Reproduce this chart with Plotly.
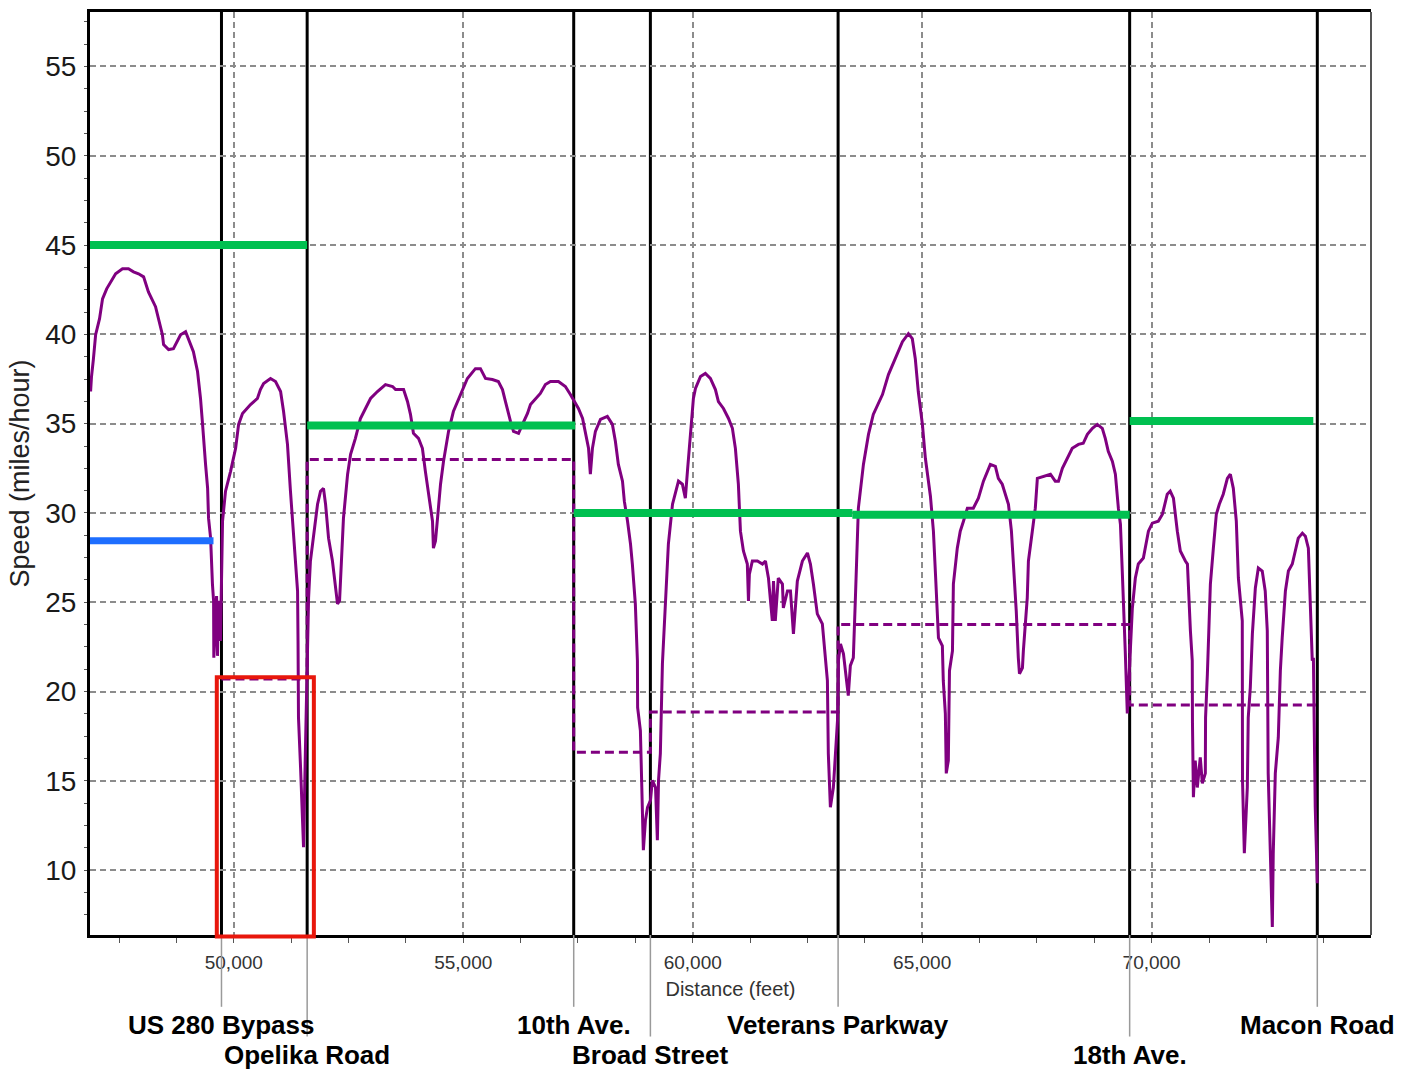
import plotly.graph_objects as go

# ---------------------------------------------------------------
# Measured travel-speed profile along the corridor
# ---------------------------------------------------------------
dist_ft = [
    46880, 46900, 46940, 46990, 47075, 47140, 47230, 47315, 47425, 47575,
    47705, 47815, 47925, 48035, 48140, 48295, 48360, 48445, 48470, 48580,
    48685, 48840, 48950, 49015, 49120, 49210, 49275, 49320, 49340, 49385,
    49430, 49450, 49495, 49515, 49535, 49560, 49565, 49600, 49625, 49645,
    49665, 49710, 49730, 49755,
    49820, 49930, 50040, 50105, 50190, 50365, 50515, 50580, 50650, 50800,
    50910, 51020, 51085, 51170, 51235, 51300, 51390, 51400, 51410, 51455,
    51495, 51520, 51560, 51605,
    51630, 51670, 51735, 51825, 51890, 51955, 52000, 52065, 52150, 52215,
    52260, 52305, 52325, 52390, 52480, 52545, 52650, 52760, 52870, 52980,
    53130, 53305, 53460, 53525, 53700, 53785, 53850, 53915, 54025, 54110,
    54175, 54240, 54330, 54350, 54395, 54440, 54505, 54570, 54680, 54785,
    54940, 55090, 55265, 55375, 55485, 55635, 55765, 55855, 55920, 55985,
    56030, 56095, 56205, 56290, 56400, 56465, 56575, 56680, 56790, 56900,
    57075, 57225, 57335, 57400, 57510, 57600, 57660, 57730, 57770, 57815,
    57880, 57990, 58140, 58250, 58315, 58380, 58470, 58510, 58580, 58645,
    58685, 58710, 58750, 58795, 58800, 58860, 58905, 58925, 58970, 59015,
    59080, 59120, 59190, 59230, 59255, 59295, 59340, 59405, 59470, 59560,
    59625, 59690, 59775, 59840, 59885, 59950, 60015, 60060, 60170, 60275,
    60385, 60495, 60560, 60670, 60780, 60865, 60930, 60995, 61040, 61105,
    61190, 61215, 61235, 61300, 61410, 61520, 61585, 61650, 61735, 61760,
    61800, 61865, 61955, 61975, 62065, 62130, 62195, 62280, 62390, 62500,
    62565, 62630, 62715, 62825, 62890, 62935, 62955, 63000, 63065, 63110,
    63155, 63175, 63220, 63285, 63350, 63390, 63435, 63500, 63545, 63610,
    63720, 63830, 63935, 64135, 64265, 64415, 64570, 64700, 64785, 64850,
    64915, 65005, 65070, 65180, 65245, 65290, 65355, 65440, 65460, 65505,
    65525, 65570, 65595, 65660, 65680, 65765, 65830, 65900, 65985, 66115,
    66225, 66335, 66420, 66485, 66595, 66660, 66745, 66815, 66880, 66945,
    66985, 67050, 67095, 67120, 67185, 67205, 67290, 67315, 67400, 67465,
    67510, 67640, 67795, 67900, 67970, 68055, 68165, 68270, 68405, 68510,
    68600, 68710, 68815, 68925, 68990, 69055, 69145, 69210, 69275, 69320,
    69360, 69385, 69425, 69470, 69535, 69540, 69580, 69645, 69710, 69820,
    69930, 70015, 70145, 70235, 70340, 70405, 70475, 70560, 70625, 70735,
    70780, 70845, 70885, 70890, 70910, 70950, 70995, 71060, 71105, 71170,
    71175, 71215, 71235, 71280, 71345, 71410, 71475, 71560, 71650, 71715,
    71780, 71845, 71890, 71975, 71980, 72020, 72085, 72105, 72150, 72195,
    72260, 72325, 72410, 72475, 72520, 72540, 72585, 72630, 72650, 72695,
    72760, 72805, 72845, 72915, 72980, 73065, 73130, 73195, 73285, 73350,
    73415, 73455, 73500, 73525, 73565, 73610,
]
speed_mph = [
    36.80, 37.64, 38.59, 39.98, 40.88, 41.99, 42.55, 42.94, 43.39, 43.67,
    43.67, 43.50, 43.39, 43.22, 42.38, 41.55, 40.88, 39.98, 39.43, 39.15,
    39.20, 39.98, 40.15, 39.76, 39.03, 37.92, 36.41, 34.96, 34.18, 32.72,
    31.38, 29.71, 28.59, 27.14, 26.02, 25.08, 21.89, 23.96, 25.35, 22.00,
    25.08, 22.84, 25.63, 29.54,
    31.22, 32.33, 33.62, 34.96, 35.57, 36.07, 36.41, 36.91, 37.25, 37.53,
    37.36, 36.80, 35.68, 33.84, 31.22, 28.98, 25.63, 22.84, 18.54, 15.75,
    13.52, 11.28, 16.59, 22.84,
    25.24, 27.31, 28.59, 30.49, 31.22, 31.38, 30.49, 28.59, 27.31, 26.02,
    24.91, 25.08, 26.36, 29.71, 32.17, 33.28, 34.18, 35.29, 35.85, 36.41,
    36.80, 37.19, 37.08, 36.91, 36.91, 36.24, 35.52, 34.46, 34.18, 33.62,
    32.33, 31.05, 29.54, 28.03, 28.43, 29.71, 31.61, 32.89, 34.57, 35.68,
    36.63, 37.53, 38.08, 38.08, 37.53, 37.47, 37.36, 36.91, 36.24, 35.52,
    35.13, 34.57, 34.46, 34.96, 35.57, 36.07, 36.41, 36.69, 37.19, 37.36,
    37.36, 37.08, 36.63, 36.35, 35.85, 35.29, 34.57, 33.62, 32.17, 33.62,
    34.57, 35.24, 35.41, 34.96, 34.01, 32.72, 31.78, 30.66, 29.54, 28.26,
    27.14, 26.19, 24.91, 21.73, 19.10, 17.82, 13.18, 11.12, 12.79, 13.52,
    13.91, 15.03, 14.63, 11.68, 15.03, 16.53, 21.56, 25.24, 28.26, 30.49,
    31.22, 31.78, 31.61, 30.83, 32.33, 34.57, 36.41, 36.97, 37.64, 37.81,
    37.53, 36.91, 36.24, 35.85, 35.29, 34.74, 33.62, 31.61, 28.98, 27.87,
    27.14, 25.08, 26.58, 27.31, 27.31, 27.14, 27.31, 26.36, 23.96, 26.19,
    23.96, 26.36, 26.02, 24.68, 25.63, 25.63, 23.23, 26.19, 27.31, 27.76,
    27.14, 26.02, 24.35, 23.79, 21.89, 20.61, 16.53, 13.52, 14.63, 16.70,
    18.38, 21.73, 22.67, 22.12, 20.61, 19.77, 21.45, 21.89, 25.24, 30.27,
    32.72, 34.40, 35.52, 36.63, 37.75, 38.64, 39.59, 40.04, 39.76, 38.64,
    36.80, 34.96, 33.06, 30.94, 28.98, 26.58, 23.01, 22.56, 20.61, 18.77,
    15.42, 16.14, 21.17, 22.28, 26.02, 28.03, 28.98, 29.54, 30.27, 30.27,
    30.83, 31.78, 32.33, 32.72, 32.61, 31.94, 31.61, 31.05, 30.49, 28.98,
    27.31, 24.52, 21.89, 21.00, 21.33, 22.28, 25.24, 27.31, 28.98, 30.27,
    31.94, 32.05, 32.17, 31.78, 31.78, 32.50, 33.06, 33.62, 33.84, 33.90,
    34.40, 34.74, 34.96, 34.74, 34.18, 33.45, 32.89, 32.17, 30.27, 29.37,
    26.75, 25.24, 22.28, 18.77, 22.28, 23.23, 24.68, 26.36, 27.14, 27.48,
    28.98, 29.43, 29.54, 29.93, 31.05, 31.22, 30.83, 28.98, 27.87, 27.31,
    27.14, 23.40, 21.73, 18.21, 14.08, 16.14, 14.63, 16.31, 14.86, 15.42,
    18.54, 21.00, 22.84, 26.02, 28.03, 29.93, 30.49, 31.05, 31.94, 32.17,
    31.38, 29.54, 26.36, 23.96, 15.03, 10.95, 14.63, 18.54, 20.22, 23.23,
    25.80, 26.92, 26.75, 25.63, 23.40, 15.42, 11.12, 6.82, 10.95, 15.42,
    17.43, 21.17, 23.01, 25.63, 26.75, 27.14, 27.87, 28.59, 28.87, 28.70,
    28.03, 25.24, 21.73, 21.89, 13.52, 9.27,
]

# ---------------------------------------------------------------
# Intersections along the route
# ---------------------------------------------------------------
intersection_names = [
    "US 280 Bypass", "Opelika Road", "10th Ave.", "Broad Street",
    "Veterans Parkway", "18th Ave.", "Macon Road",
]
intersection_ft = [49732, 51599, 57407, 59078, 63168, 69521, 73610]
label_row = [0, 1, 0, 1, 0, 1, 0]  # 0 = upper label row, 1 = lower row

# Average travel speed on each link between consecutive intersections
link_avg_mph = [20.7, 33.0, 16.6, 18.85, 23.75, 19.25]

# Posted speed limits by stretch
limit_start_ft = [46867, 51599, 57407, 63479, 69521]
limit_end_ft = [51599, 57440, 63479, 69521, 73523]
limit_mph = [45.0, 34.9, 30.0, 29.9, 35.15]

# Additional reference speed on the first stretch
ref_start_ft = [46867]
ref_end_ft = [49558]
ref_mph = [28.45]

# Highlighted link (US 280 Bypass to Opelika Road)
box_ft = [49630, 51745]
box_mph = [6.28, 20.8]

X_RANGE = [46867, 74780]
Y_RANGE = [6.37, 58.05]

FONT = "Liberation Sans, Arial, sans-serif"
PURPLE = "#800080"
GREEN = "#00c050"
BLUE = "#1e6eff"

fig = go.Figure()

# travel-speed profile
fig.add_trace(go.Scatter(
    x=dist_ft, y=speed_mph, mode="lines",
    line=dict(color=PURPLE, width=3),
    hoverinfo="skip", showlegend=False,
))

# average speed per link, stepped at each intersection
fig.add_trace(go.Scatter(
    x=intersection_ft, y=link_avg_mph + [link_avg_mph[-1]],
    mode="lines", line=dict(color=PURPLE, width=3, dash="9px,5px", shape="hv"),
    hoverinfo="skip", showlegend=False,
))

# speed limits
lx, ly = [], []
for s, e, v in zip(limit_start_ft, limit_end_ft, limit_mph):
    lx += [s, e, None]
    ly += [v, v, None]
fig.add_trace(go.Scatter(
    x=lx, y=ly, mode="lines", line=dict(color=GREEN, width=8),
    hoverinfo="skip", showlegend=False,
))

rx, ry = [], []
for s, e, v in zip(ref_start_ft, ref_end_ft, ref_mph):
    rx += [s, e, None]
    ry += [v, v, None]
fig.add_trace(go.Scatter(
    x=rx, y=ry, mode="lines", line=dict(color=BLUE, width=7),
    hoverinfo="skip", showlegend=False,
))

shapes = []
annotations = []
row_label_y = [-0.0972, -0.1296]
row_line_end = [-0.0778, -0.110]
for name, pos, row in zip(intersection_names, intersection_ft, label_row):
    # full-height intersection marker
    shapes.append(dict(type="line", xref="x", yref="paper", x0=pos, x1=pos,
                       y0=0, y1=1, layer="between",
                       line=dict(color="black", width=3)))
    # leader line down to the name
    shapes.append(dict(type="line", xref="x", yref="paper", x0=pos, x1=pos,
                       y0=0, y1=row_line_end[row],
                       line=dict(color="#9a9a9a", width=1.5)))
    annotations.append(dict(
        x=pos, xref="x", y=row_label_y[row], yref="paper",
        text=name, showarrow=False, xanchor="center", yanchor="middle",
        font=dict(family=FONT, size=26, color="black", weight="bold"),
    ))

# highlight box around the first link
def to_paper_y(v):
    return (v - Y_RANGE[0]) / (Y_RANGE[1] - Y_RANGE[0])

shapes.append(dict(type="rect", xref="x", yref="paper",
                   x0=box_ft[0], x1=box_ft[1],
                   y0=to_paper_y(box_mph[0]), y1=to_paper_y(box_mph[1]),
                   layer="above", line=dict(color="#e8170c", width=4),
                   fillcolor="rgba(0,0,0,0)"))

# grey right-hand frame edge
shapes.append(dict(type="line", xref="paper", yref="paper", x0=1, x1=1,
                   y0=0, y1=1, layer="above",
                   line=dict(color="#555555", width=2)))

fig.update_layout(
    width=1413, height=1070,
    margin=dict(l=90, r=42, t=9, b=135),
    paper_bgcolor="white", plot_bgcolor="white",
    shapes=shapes, annotations=annotations,
    showlegend=False,
    font=dict(family=FONT),
)

fig.update_xaxes(
    range=X_RANGE, dtick=5000, tick0=0, tickformat=",d",
    showgrid=True, gridcolor="#8c8c8c", gridwidth=1.5, griddash="6px,4px",
    showline=True, linecolor="black", linewidth=3, mirror=True,
    ticks="outside", ticklen=5, tickcolor="#555555", tickwidth=1,
    minor=dict(dtick=1250, tick0=0, ticks="outside", ticklen=5,
               tickcolor="#555555", showgrid=False),
    tickfont=dict(family=FONT, size=19, color="#333333"),
    ticklabelstandoff=3,
    title=dict(text="Distance (feet)", standoff=11,
               font=dict(family=FONT, size=20, color="#333333")),
    zeroline=False,
)

fig.update_yaxes(
    range=Y_RANGE, dtick=5, tick0=0,
    showgrid=True, gridcolor="#8c8c8c", gridwidth=1.5, griddash="6px,4px",
    showline=True, linecolor="black", linewidth=3, mirror=False,
    ticks="outside", ticklen=3, tickcolor="#555555", tickwidth=1,
    minor=dict(dtick=1.25, tick0=0, ticks="outside", ticklen=3,
               tickcolor="#555555", showgrid=False),
    tickfont=dict(family=FONT, size=28, color="#1a1a1a"),
    ticklabelstandoff=2,
    title=dict(text="Speed (miles/hour)", standoff=8,
               font=dict(family=FONT, size=27, color="#222222")),
    zeroline=False,
)

fig.write_html("out.html")
